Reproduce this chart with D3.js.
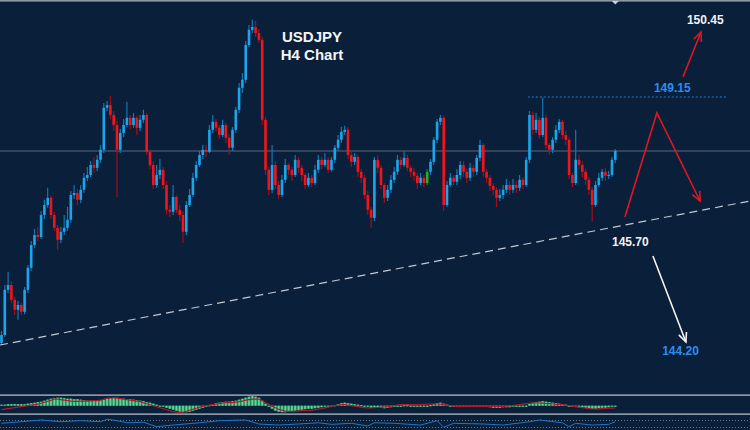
<!DOCTYPE html>
<html><head><meta charset="utf-8">
<script src="https://cdn.jsdelivr.net/npm/d3@7"></script>
<style>html,body{margin:0;padding:0;background:#0a1f3a;overflow:hidden}</style>
</head><body><svg id="c" width="750" height="430"></svg>
<script>
// ---- data (USDJPY H4) ----
const firstOpen = 143.00;
const closes = [
143.20,144.33,144.45,144.08,143.83,143.95,143.78,144.33,144.88,145.45,
145.70,145.65,146.20,146.45,146.63,146.20,145.88,145.58,145.78,145.88,
146.08,146.70,146.75,146.58,146.83,147.13,147.20,147.45,147.38,147.58,
147.83,148.88,148.95,148.70,148.45,147.83,148.25,148.45,148.63,148.45,
148.63,148.38,148.58,148.70,147.78,147.45,146.95,147.20,147.33,146.95,
146.33,146.28,146.65,146.33,146.20,145.78,146.45,146.70,147.13,147.45,
147.70,147.83,147.78,148.33,148.53,148.38,148.20,148.45,148.13,147.88,
148.33,148.83,149.38,149.58,150.45,150.83,150.90,150.75,150.58,148.58,
147.33,146.83,147.45,146.95,146.70,147.08,147.45,147.33,147.20,147.58,
147.38,147.20,146.95,147.13,147.00,147.33,147.58,147.45,147.58,147.33,
147.58,147.88,148.08,148.28,148.33,147.70,147.53,147.65,147.28,147.13,
146.70,146.33,146.13,147.58,147.38,146.95,146.63,146.83,147.08,147.28,
147.58,147.45,147.63,147.38,147.28,147.18,147.00,147.13,147.00,147.28,
147.53,148.08,148.53,148.63,146.45,146.95,147.13,147.03,147.20,147.45,
147.28,147.13,147.38,147.28,147.63,147.95,147.28,147.13,146.93,146.83,
146.63,146.70,146.83,146.95,146.83,146.95,146.88,147.08,146.95,147.58,
148.70,148.33,148.58,148.20,148.63,147.95,147.83,148.08,148.33,148.53,
148.20,148.08,147.20,147.00,147.58,147.45,147.28,147.08,146.83,146.45,
146.95,147.13,147.28,147.18,147.20,147.58,147.80];
const highs = [
143.30,144.45,144.78,144.55,144.15,144.05,144.00,144.40,144.95,145.55,
145.85,145.90,146.30,146.58,146.88,146.68,146.28,145.95,145.90,146.20,
146.40,146.80,146.95,146.85,146.95,147.25,147.40,147.55,147.65,147.70,
147.95,149.00,149.05,149.18,148.80,148.55,148.35,148.60,149.03,148.70,
148.75,148.68,148.70,148.83,148.75,147.85,147.55,147.45,147.60,147.40,
147.05,146.45,146.95,146.70,146.45,146.30,146.55,146.85,147.25,147.55,
147.80,147.95,147.95,148.45,148.70,148.60,148.45,148.58,148.50,148.20,
148.40,148.90,149.50,149.75,150.55,150.95,151.08,151.05,150.85,150.65,
148.65,147.40,147.95,147.55,147.05,147.20,147.60,147.50,147.40,147.70,
147.65,147.45,147.25,147.25,147.20,147.45,147.70,147.65,147.75,147.65,
147.65,147.95,148.20,148.40,148.43,148.40,147.80,147.75,147.70,147.35,
147.20,146.80,146.40,147.65,147.68,147.45,147.00,146.95,147.20,147.40,
147.70,147.65,147.80,147.70,147.45,147.38,147.25,147.25,147.20,147.35,
147.60,148.15,148.60,148.70,148.68,147.05,147.25,147.20,147.35,147.55,
147.55,147.35,147.50,147.45,147.70,148.08,148.00,147.35,147.20,147.00,
146.90,146.85,146.95,147.10,147.05,147.10,147.05,147.20,147.15,147.65,
148.80,148.78,148.75,148.65,149.13,148.70,148.00,148.15,148.45,148.60,
148.58,148.30,148.15,147.25,148.33,147.70,147.55,147.35,147.15,146.90,
147.05,147.25,147.35,147.38,147.30,147.65,147.85];
const lows = [
142.95,143.15,144.25,144.00,143.70,143.58,143.70,143.72,144.25,144.80,
145.38,145.55,145.60,146.10,146.38,146.10,145.80,145.33,145.50,145.70,
145.80,146.00,146.60,146.45,146.50,146.75,147.05,147.15,147.25,147.30,
147.50,147.75,148.80,148.60,148.30,146.65,147.75,148.15,148.40,148.35,
148.38,148.20,148.30,148.50,147.70,147.35,146.85,146.88,147.10,146.85,
146.20,146.15,146.20,146.25,146.05,145.50,145.70,146.40,146.65,147.05,
147.40,147.60,147.65,147.75,148.25,148.30,148.10,148.15,148.00,147.70,
147.80,148.25,148.75,149.25,149.50,150.40,150.75,150.65,150.50,148.45,
147.20,146.70,146.75,146.85,146.60,146.65,147.00,147.20,147.05,147.15,
147.25,147.05,146.85,146.90,146.90,146.95,147.25,147.35,147.40,147.25,
147.28,147.50,147.80,148.00,148.20,147.60,147.40,147.45,147.15,147.00,
146.60,146.20,145.88,146.05,147.25,146.85,146.50,146.55,146.75,147.00,
147.20,147.35,147.40,147.30,147.15,147.05,146.85,146.95,146.90,146.95,
147.20,147.45,148.00,148.45,146.30,146.40,146.90,146.95,146.95,147.10,
147.15,147.00,147.05,147.15,147.20,147.55,147.15,147.00,146.80,146.70,
146.40,146.55,146.60,146.75,146.70,146.75,146.75,146.80,146.85,146.90,
147.50,148.20,148.25,148.10,148.15,147.85,147.70,147.75,148.00,148.25,
148.10,147.95,147.10,146.90,146.95,147.35,147.15,146.95,146.70,146.03,
146.40,146.90,147.05,147.05,147.10,147.15,147.50];
const greenCandles = [129];

const macdMain = [
1,1,1.5,1.5,1.5,1.5,1.5,1.5,2,2.5,
3,3.5,4,5,6,7,7.5,8,8,7.5,
7,7,6.5,6.5,6,5.5,5,5,5,5,
5.5,6,7,7.5,8,8,7.5,7,6.5,6.5,
6,5.5,5,4.5,3.5,3,2,1,0,-1,
-2,-3,-4,-5,-6,-6.5,-6.5,-6,-5,-4,
-3,-2,-1,0.5,1.5,2.5,3,3.5,4,4,
4.5,5,6,7,8,9,9.5,9,8,5,
2,-1,-3,-5,-6,-6.5,-6.5,-6,-5.5,-5,
-4.5,-4,-3.5,-3,-3,-2.5,-2,-1.5,-1,-0.5,
0,0.5,1.5,2.5,3,2.5,2,1.5,1,0.5,
0,-1,-2,-1.5,-1.5,-2,-2.5,-2,-1.5,-1,
-0.5,0,0.5,0.5,0,-0.5,-1,-1,-1,-0.5,
0.5,1.5,2.5,3,2,1,0,-0.5,-0.5,-0.5,
-0.5,-0.5,-0.5,-0.5,0,0,-0.5,-1,-1.5,-2,
-2,-2,-1.5,-1.5,-1.5,-1,-1,-1,-1,0,
2,3,3.5,4,4.5,4,3.5,3,2.5,2,
1.5,1,0,-1,-1,-1.5,-2,-2,-2.5,-3,
-3,-2.5,-2,-2,-1.5,-1,-0.5];
const macdSignal = [
-4,-3.5,-3,-2.5,-2,-1.5,-1,-0.5,0,0.5,
1,1.5,2.5,3.5,4.5,5.5,6.5,6.7,6,5.5,
5,4.5,4.3,4.3,4.5,4.5,4.5,4.7,5,5,
5.5,6.5,7.5,7.7,7.7,7.5,7,6.5,6,5.5,
5,4.5,4,3,2,1,0,-1,-2,-3,
-4,-5,-6,-6.5,-6.7,-6.5,-5.5,-4.5,-3.5,-2.5,
-1.5,-0.7,0,0.5,1,1.5,2,2.5,3,3,
3,3.5,4,4.5,5.5,6,6.5,6.7,6.5,5,
3,1.5,-0.5,-2,-3.5,-4.5,-5.5,-5.7,-5.7,-5.5,
-5.2,-5,-4.8,-4.7,-4.5,-4,-3.5,-3,-2.2,-1.5,
-0.8,0,0.5,1,1,0.5,0,-0.5,-1,-1.5,
-2,-2.3,-2.3,-2,-1.8,-1.5,-1.2,-1,-0.5,0,
0.5,1,1,1,1,1,1,1.2,1.4,1.5,
1.6,1.7,1.7,1.5,1,0.5,0,-0.5,-0.7,-0.7,
-0.7,-0.7,-0.7,-0.7,-0.7,-0.7,-0.7,-0.7,-0.7,-0.7,
-0.7,-0.7,-0.7,-0.5,-0.3,0,0.5,1,1.5,2,
2.3,2.6,2.7,2.7,2.5,2.2,2,1.7,1.4,1.2,
1,0.5,0,-0.5,-1,-1.5,-2,-2.5,-3,-3.3,
-3.3,-3.1,-2.9,-2.7,-2.5,-2.4,-2.3];
const rsiIdx = [0,6,12,18,24,30,32,35,38,43,47,52,60,66,74,78,84,90,96,100,106,111,113,119,127,132,134,137,146,152,160,163,170,172,174,179,184,186];
const rsiVal = [54,63,73,63,69,63,77,69,57,60,35,44,57,69,73,50,44,50,57,48,54,39,57,54,44,69,31,54,50,44,63,73,57,35,54,44,48,63];

// annotations in (candle index, price)
const levelLine = {from: 159.5, to: 219.8, price: 149.15};
const trendLine = [[-0.45, 142.95], [226.8, 146.55]];
const zigzag = [[188.9, 146.15], [198.6, 148.75], [211.7, 146.55]];
const upArrow = [[206.5, 149.65], [211.97, 150.775]];
const downArrow = [[197.4, 145.175], [207.4, 143.025]];
const labels = [
  {text: "150.45", idx: 207.7, price: 150.975, color: "#f2f2f2"},
  {text: "149.15", idx: 197.7, price: 149.275, color: "#2a8ef0"},
  {text: "145.70", idx: 185.0, price: 145.425, color: "#f2f2f2"},
  {text: "144.20", idx: 200.2, price: 142.70, color: "#2a8ef0"}
];
const titleLines = ["USDJPY", "H4 Chart"];

// ---- drawing ----
const W = 750, H = 430;
const svg = d3.select("#c");
svg.append("rect").attr("width", W).attr("height", H).attr("fill", "#0a1f3a");

const x = d3.scaleLinear().domain([0, 186]).range([1.5, 615.3]);
const y = d3.scaleLinear().domain([141.725, 151.575]).range([394, 0]);
const opens = closes.map((c, i) => i === 0 ? firstOpen : closes[i - 1]);
const candles = closes.map((c, i) => ({i, o: opens[i], h: highs[i], l: lows[i], c}));

// top border and marker
svg.append("rect").attr("x", 0).attr("y", 0).attr("width", W).attr("height", 1.6).attr("fill", "#8e97a4");
svg.append("path").attr("d", d3.line()([[x(186) - 3.5, 1], [x(186) + 3.5, 1], [x(186), 4.5]])).attr("fill", "#c8ced6");

// current price line
svg.append("line").attr("x1", 0).attr("x2", W).attr("y1", y(closes[closes.length - 1])).attr("y2", y(closes[closes.length - 1]))
  .attr("stroke", "#5b6a7e").attr("stroke-width", 1.2);

// candles
const g = svg.append("g");
const colorOf = d => greenCandles.includes(d.i) ? ["#20b030", "#158020"] : (d.c >= d.o ? ["#1ba6ec", "#1476b4"] : ["#f0141c", "#9e0f1c"]);
g.selectAll("line.w").data(candles).join("line")
  .attr("x1", d => x(d.i)).attr("x2", d => x(d.i))
  .attr("y1", d => y(Math.max(d.h, d.o, d.c))).attr("y2", d => y(Math.min(d.l, d.o, d.c)))
  .attr("stroke", d => colorOf(d)[1]).attr("stroke-width", 1.2);
g.selectAll("rect.b").data(candles).join("rect")
  .attr("x", d => x(d.i) - 1.3).attr("width", 2.6)
  .attr("y", d => y(Math.max(d.o, d.c)))
  .attr("height", d => Math.max(1, Math.abs(y(d.o) - y(d.c))))
  .attr("fill", d => colorOf(d)[0]);

// level dotted line
svg.append("line").attr("x1", x(levelLine.from)).attr("x2", x(levelLine.to))
  .attr("y1", y(levelLine.price)).attr("y2", y(levelLine.price))
  .attr("stroke", "#2a7fd4").attr("stroke-width", 1).attr("stroke-dasharray", "2,2");

// trend line
svg.append("line").attr("x1", x(trendLine[0][0])).attr("y1", y(trendLine[0][1]))
  .attr("x2", x(trendLine[1][0])).attr("y2", y(trendLine[1][1]))
  .attr("stroke", "#c3c9d1").attr("stroke-width", 1.2).attr("stroke-dasharray", "8,5");

// arrows
function arrow(pts, color) {
  const p = pts.map(d => [x(d[0]), y(d[1])]);
  svg.append("path").attr("d", d3.line()(p)).attr("fill", "none").attr("stroke", color).attr("stroke-width", 1.6);
  const a = p[p.length - 2], b = p[p.length - 1];
  const ang = Math.atan2(b[1] - a[1], b[0] - a[0]);
  const L = 10, sp = 0.42;
  const h1 = [b[0] - L * Math.cos(ang - sp), b[1] - L * Math.sin(ang - sp)];
  const h2 = [b[0] - L * Math.cos(ang + sp), b[1] - L * Math.sin(ang + sp)];
  svg.append("path").attr("d", d3.line()([h1, b, h2])).attr("fill", "none").attr("stroke", color).attr("stroke-width", 1.6);
}
arrow(zigzag, "#e3161f");
arrow(upArrow, "#e3161f");
arrow(downArrow, "#f4f4f4");

// labels
svg.selectAll("text.lab").data(labels).join("text")
  .attr("x", d => x(d.idx)).attr("y", d => y(d.price))
  .attr("fill", d => d.color)
  .attr("font-family", "'Liberation Sans', Arial, sans-serif").attr("font-weight", "bold").attr("font-size", 12)
  .text(d => d.text);
svg.selectAll("text.title").data(titleLines).join("text")
  .attr("x", 312).attr("y", (d, i) => 42 + i * 18).attr("text-anchor", "middle")
  .attr("fill", "#f4f4f4")
  .attr("font-family", "'Liberation Sans', Arial, sans-serif").attr("font-weight", "bold").attr("font-size", 15)
  .text(d => d);

// lower panels
svg.append("rect").attr("x", 0).attr("y", 394.3).attr("width", W).attr("height", 1.7).attr("fill", "#8d96a3");
svg.append("rect").attr("x", 0).attr("y", 413.3).attr("width", W).attr("height", 1.7).attr("fill", "#8d96a3");

const ym = d3.scaleLinear().domain([-7, 9]).range([412.7, 396.7]);
svg.append("g").selectAll("rect").data(macdMain).join("rect")
  .attr("x", (d, i) => x(i) - 1.65).attr("width", 3.3)
  .attr("y", d => Math.min(ym(d), ym(0))).attr("height", d => Math.max(1, Math.abs(ym(d) - ym(0))))
  .attr("fill", "#2f9a64");
svg.append("g").selectAll("rect").data(macdMain).join("rect")
  .attr("x", (d, i) => x(i) - 0.8).attr("width", 1.6)
  .attr("y", d => Math.min(ym(d), ym(0))).attr("height", d => Math.max(1, Math.abs(ym(d) - ym(0))))
  .attr("fill", "#5fd69a");
svg.append("path").datum(macdSignal)
  .attr("d", d3.line().x((d, i) => x(i)).y(d => ym(d)))
  .attr("fill", "none").attr("stroke", "#b3182a").attr("stroke-width", 1.2);

const yr = d3.scaleLinear().domain([30, 70]).range([427.5, 420.5]);
[30, 70].forEach(v => svg.append("line").attr("x1", 0).attr("x2", W).attr("y1", yr(v)).attr("y2", yr(v))
  .attr("stroke", "#6d7888").attr("stroke-width", 1).attr("stroke-dasharray", "1,2"));
svg.append("path").datum(rsiIdx.map((d, i) => [d, rsiVal[i]]))
  .attr("d", d3.line().x(d => x(d[0])).y(d => yr(d[1])))
  .attr("fill", "none").attr("stroke", "#2274c8").attr("stroke-width", 1);
</script></body></html>
